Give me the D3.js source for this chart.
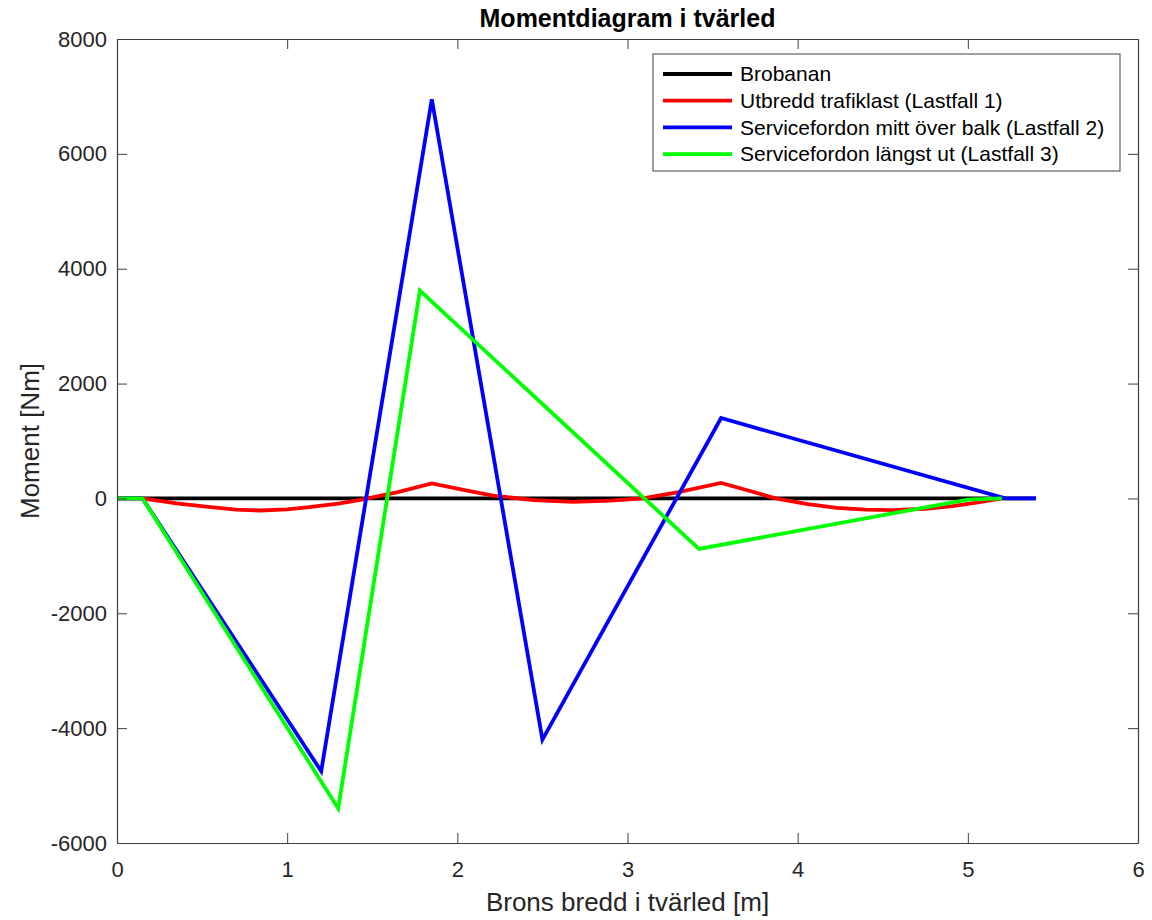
<!DOCTYPE html>
<html>
<head>
<meta charset="utf-8">
<script src="https://cdn.jsdelivr.net/npm/d3@7"></script>
<style>
  body { margin: 0; background: #fff; }
  text { font-family: "Liberation Sans", Arial, Helvetica, sans-serif; fill: #262626; }
</style>
</head>
<body>
<svg id="chart" width="1152" height="920"></svg>
<script>
// values
var xTicks = [0, 1, 2, 3, 4, 5, 6]
var yTicks = [-6000, -4000, -2000, 0, 2000, 4000, 6000, 8000]

var brobanan = [[0, 0], [5.4, 0]]
var lastfall1 = [
  [0, 0], [0.15, 0], [0.35, -85], [0.55, -150], [0.7, -195], [0.84, -210], [1.0, -190],
  [1.13, -150], [1.3, -90], [1.43, -25], [1.65, 110], [1.85, 260], [2.05, 140], [2.21, 50],
  [2.45, -30], [2.68, -60], [2.9, -40], [3.09, 0], [3.3, 110], [3.55, 270], [3.72, 130],
  [3.87, 0], [4.05, -95], [4.23, -165], [4.4, -195], [4.56, -205], [4.75, -180],
  [4.91, -135], [5.05, -75], [5.2, 0]
]
var lastfall2 = [[0, 0], [0.15, 0], [1.2, -4750], [1.85, 6950], [2.5, -4200], [3.55, 1400], [5.22, 0], [5.4, 0]]
var lastfall3 = [[0, 0], [0.15, 0], [1.3, -5400], [1.78, 3620], [3.42, -880], [5.0, -20], [5.2, 0]]

var series = [
  { name: 'Brobanan', color: '#000000', data: brobanan },
  { name: 'Utbredd trafiklast (Lastfall 1)', color: '#ff0000', data: lastfall1 },
  { name: 'Servicefordon mitt över balk (Lastfall 2)', color: '#0000ff', data: lastfall2 },
  { name: 'Servicefordon längst ut (Lastfall 3)', color: '#00ff00', data: lastfall3 }
]

var svg = d3.select('#chart')
var plotLeft = 117, plotRight = 1138, plotTop = 39, plotBottom = 843
var axisColor = '#404040'

var x = d3.scaleLinear().domain([0, 6]).range([plotLeft, plotRight])
var y = d3.scaleLinear().domain([-6000, 8000]).range([plotBottom, plotTop])

// lines
var line = d3.line().x(function (d) { return x(d[0]) }).y(function (d) { return y(d[1]) })
svg.append('g').selectAll('path')
  .data(series)
  .enter().append('path')
  .attr('d', function (d) { return line(d.data) })
  .attr('fill', 'none')
  .attr('stroke', function (d) { return d.color })
  .attr('stroke-width', 3.8)

// axes (ticks inward, box on)
function plain (d) { return String(d) }
function styleAxis (g) {
  g.select('.domain').attr('stroke', axisColor).attr('stroke-width', 1.2)
  g.selectAll('.tick line').attr('stroke', axisColor)
  g.selectAll('.tick text').attr('font-size', 22).attr('fill', '#262626')
    .style('font-family', '"Liberation Sans", Arial, sans-serif')
}

svg.append('g')
  .attr('transform', 'translate(0,' + plotBottom + ')')
  .call(d3.axisBottom(x).tickValues(xTicks).tickFormat(plain).tickSizeInner(-10).tickSizeOuter(0).tickPadding(18))
  .call(styleAxis)
svg.append('g')
  .attr('transform', 'translate(0,' + plotTop + ')')
  .call(d3.axisTop(x).tickValues(xTicks).tickFormat('').tickSizeInner(-10).tickSizeOuter(0))
  .call(styleAxis)
svg.append('g')
  .attr('transform', 'translate(' + plotLeft + ',0)')
  .call(d3.axisLeft(y).tickValues(yTicks).tickFormat(plain).tickSizeInner(-10).tickSizeOuter(0).tickPadding(10))
  .call(styleAxis)
svg.append('g')
  .attr('transform', 'translate(' + plotRight + ',0)')
  .call(d3.axisRight(y).tickValues(yTicks).tickFormat('').tickSizeInner(-10).tickSizeOuter(0))
  .call(styleAxis)

// titles
svg.append('text')
  .attr('x', (plotLeft + plotRight) / 2).attr('y', 27)
  .attr('text-anchor', 'middle')
  .attr('font-size', 25).attr('font-weight', 'bold')
  .style('fill', '#000')
  .text('Momentdiagram i tvärled')

svg.append('text')
  .attr('x', (plotLeft + plotRight) / 2).attr('y', 911)
  .attr('text-anchor', 'middle')
  .attr('font-size', 26)
  .text('Brons bredd i tvärled [m]')

svg.append('text')
  .attr('transform', 'translate(39,' + ((plotTop + plotBottom) / 2) + ') rotate(-90)')
  .attr('text-anchor', 'middle')
  .attr('font-size', 26)
  .text('Moment [Nm]')

// legend
var legend = svg.append('g').attr('transform', 'translate(653,54)')
legend.append('rect')
  .attr('width', 467).attr('height', 117)
  .attr('fill', '#fff').attr('stroke', axisColor).attr('stroke-width', 1)

var rows = legend.selectAll('.row')
  .data(series)
  .enter().append('g')
  .attr('class', 'row')
  .attr('transform', function (d, i) { return 'translate(0,' + (20 + i * 26.7) + ')' })
rows.append('line')
  .attr('x1', 10).attr('x2', 79)
  .attr('stroke', function (d) { return d.color })
  .attr('stroke-width', 3.8)
rows.append('text')
  .attr('x', 87).attr('dy', '0.35em')
  .attr('font-size', 21)
  .style('fill', '#000')
  .text(function (d) { return d.name })
</script>
</body>
</html>
